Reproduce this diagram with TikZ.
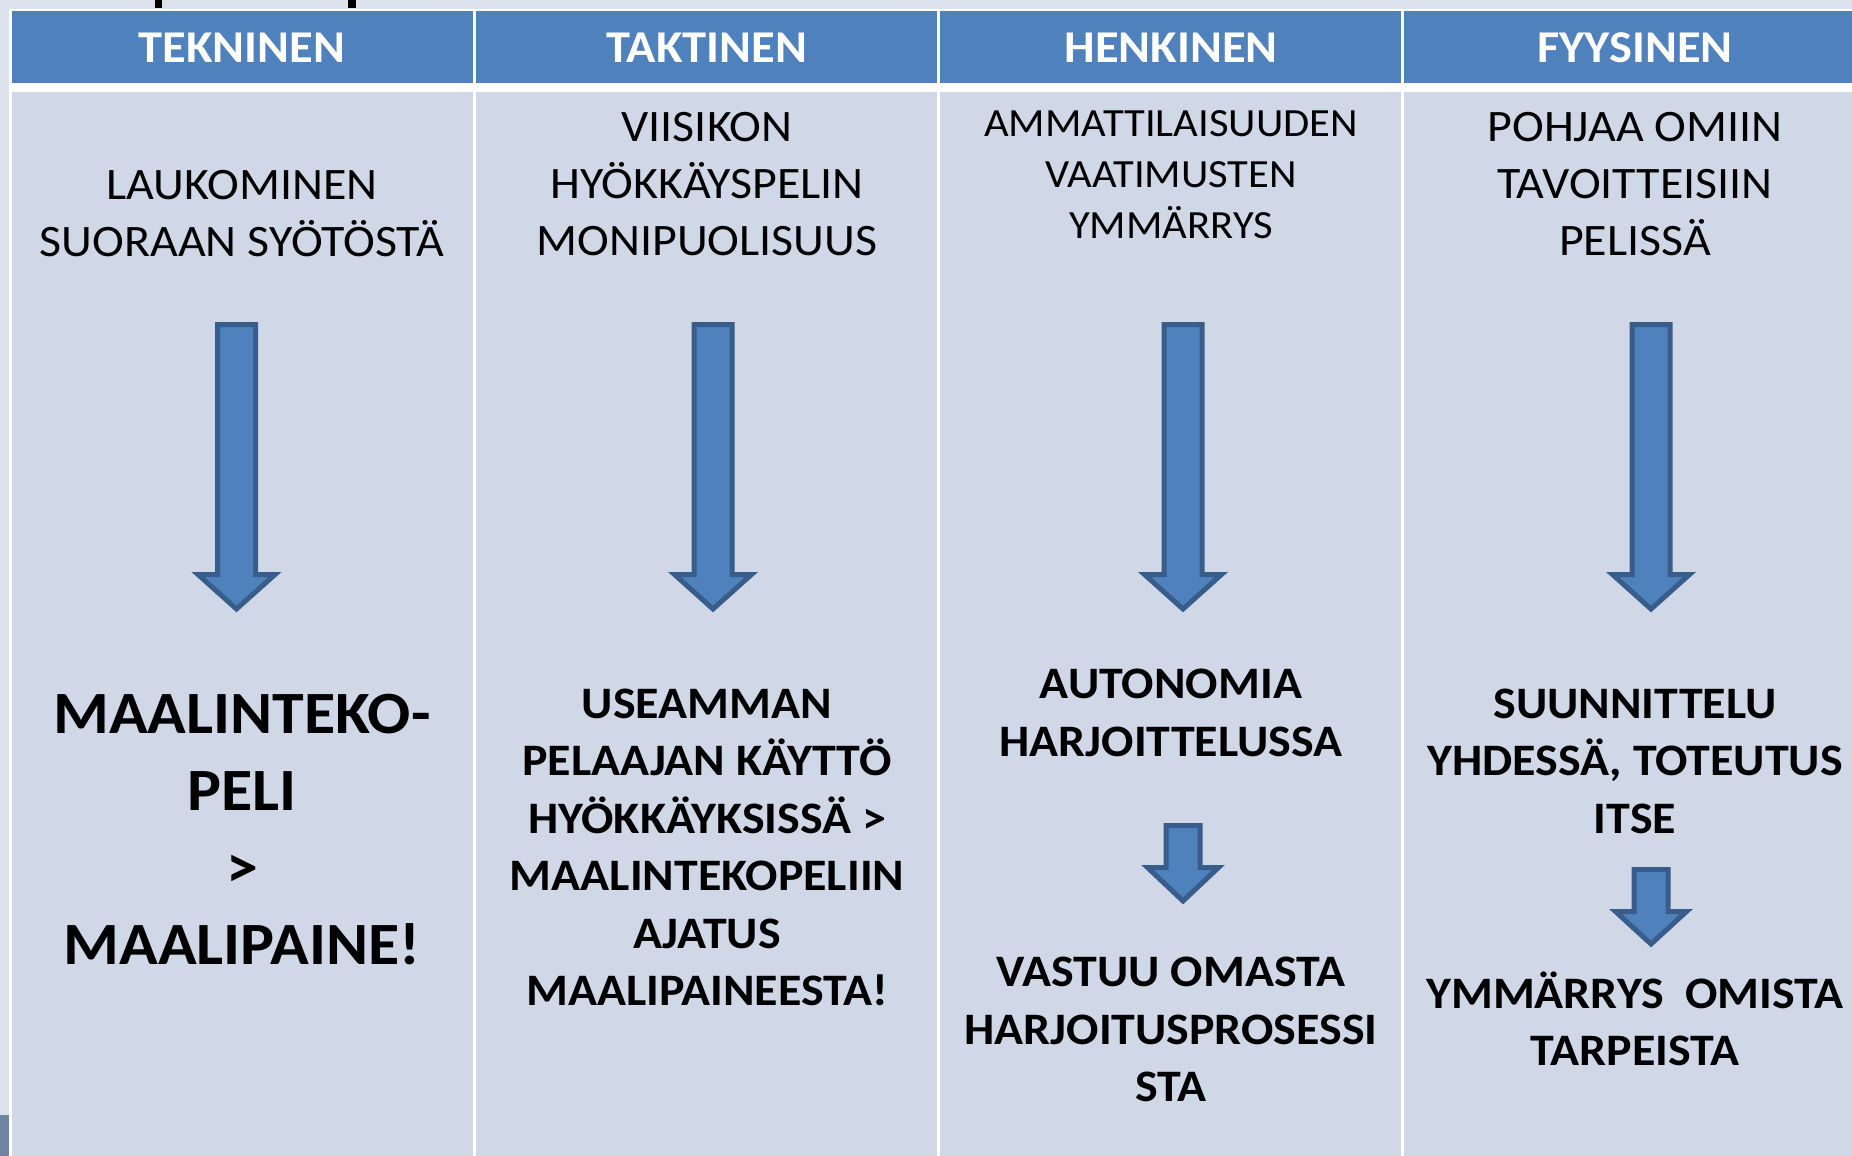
\documentclass[tikz,border=0pt]{standalone}
\usepackage{fontspec}
\setmainfont{Carlito}[FakeStretch=1.065]

\definecolor{otsikko}{HTML}{4F81BD}
\definecolor{solu}{HTML}{D0D8E8}
\definecolor{reuna}{HTML}{385D8A}
\definecolor{tausta}{HTML}{DCE3EC}
\definecolor{tumma}{HTML}{6F83A3}

% x, top, base, tip, shaft half width, head half width
\newcommand{\nuoli}[6]{%
  \draw[nuoli] ({#1-#5},#2) -- ({#1+#5},#2) -- ({#1+#5},#3) -- ({#1+#6},#3)
    -- (#1,#4) -- ({#1-#6},#3) -- ({#1-#5},#3) -- cycle;}

\begin{document}
\begin{tikzpicture}[x=1pt,y=-1pt,
  nuoli/.style={fill=otsikko,draw=reuna,line width=5pt},
  otsake/.style={text=white,font=\fontsize{45.5}{50}\selectfont\bfseries},
  ohut/.style={align=center,font=\fontsize{45}{57}\selectfont},
  pieni/.style={align=center,font=\fontsize{40}{51}\selectfont},
  lihava/.style={align=center,font=\fontsize{45}{57.5}\selectfont\bfseries},
  suuri/.style={align=center,font=\fontsize{60}{77}\selectfont\bfseries}]
  \clip (0,0) rectangle (1852,1156);
  \fill[tausta] (0,0) rectangle (1852,1156);
  \fill[tumma] (0,1115) rectangle (9,1156);
  \fill[black] (155,0) rectangle (162,8);
  \fill[black] (348,0) rectangle (356,8);
  \fill[white] (9,9) rectangle (1900,1200);
  \foreach \i in {0,1,2,3} {
    \fill[otsikko] ({11.7+464*\i},11.5) rectangle ({472.7+464*\i},83.3);
    \fill[solu] ({11.7+464*\i},91.7) rectangle ({472.7+464*\i},1200);
  }

  \node[otsake] (tekninen) at (242,47.5) {TEKNINEN};
  \node[otsake] (taktinen) at (707,47.5) {TAKTINEN};
  \node[otsake] (henkinen) at (1171,47.5) {HENKINEN};
  \node[otsake] (fyysinen) at (1635,47.5) {FYYSINEN};

  \node[ohut]  (tek-a) at (242,213.5) {LAUKOMINEN\\SUORAAN SYÖTÖSTÄ};
  \node[ohut]  (tak-a) at (707,184)   {VIISIKON\\HYÖKKÄYSPELIN\\MONIPUOLISUUS};
  \node[pieni] (hen-a) at (1171,175)  {AMMATTILAISUUDEN\\VAATIMUSTEN\\YMMÄRRYS};
  \node[ohut]  (fyy-a) at (1635,184)  {POHJAA OMIIN\\TAVOITTEISIIN\\PELISSÄ};

  \nuoli{236.5}{324.5}{574.5}{609}{19}{38.5}
  \nuoli{713}{324.5}{574.5}{609}{19}{38.5}
  \nuoli{1183}{324.5}{574.5}{609}{19}{38.5}
  \nuoli{1651}{324.5}{574.5}{609}{19}{38.5}

  \node[suuri]  (tek-b) at (242,829.5)  {MAALINTEKO-\\PELI\\>\\MAALIPAINE!};
  \node[lihava] (tak-b) at (707,847.5)  {USEAMMAN\\PELAAJAN KÄYTTÖ\\HYÖKKÄYKSISSÄ >\\MAALINTEKOPELIIN\\AJATUS\\MAALIPAINEESTA!};
  \node[lihava] (hen-b) at (1171,713)   {AUTONOMIA\\HARJOITTELUSSA};
  \node[lihava] (hen-c) at (1171,1029.5) {VASTUU OMASTA\\HARJOITUSPROSESSI\\STA};
  \node[lihava] (fyy-b) at (1635,761)   {SUUNNITTELU\\YHDESSÄ, TOTEUTUS\\ITSE};
  \node[lihava] (fyy-c) at (1635,1019)  {YMMÄRRYS~~OMISTA\\TARPEISTA};

  \nuoli{1183}{825.5}{867.5}{901}{17}{35.5}
  \nuoli{1651}{869.5}{911.5}{944}{17}{35.5}
\end{tikzpicture}
\end{document}
